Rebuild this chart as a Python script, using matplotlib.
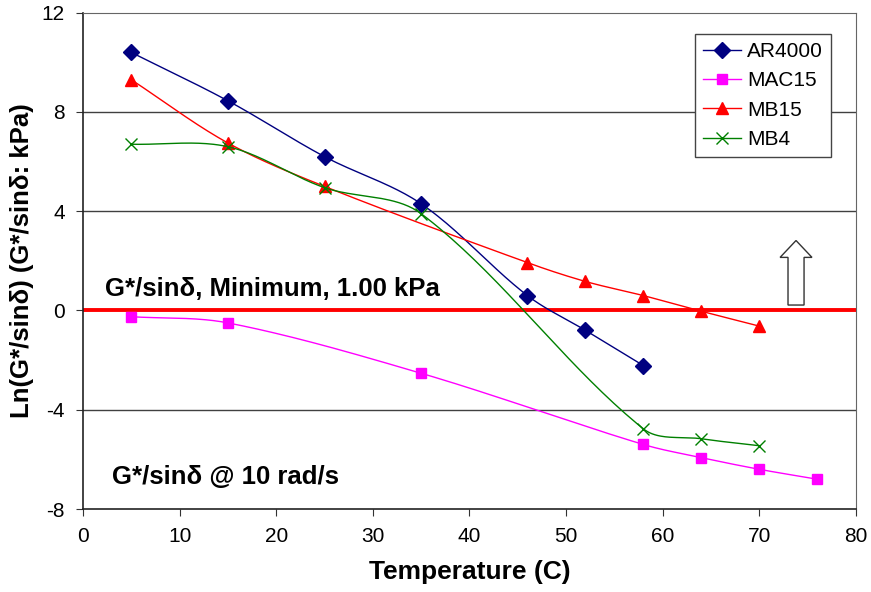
import numpy as np
import matplotlib.pyplot as plt
from matplotlib.patches import FancyArrow

plt.rcParams['font.family'] = ['Liberation Sans', 'DejaVu Sans']
plt.rcParams['axes.unicode_minus'] = False

# data
t_ar = [5, 15, 25, 35, 46, 52, 58]
ar4000 = [10.4, 8.45, 6.2, 4.3, 0.6, -0.8, -2.22]
t_mac = [5, 15, 35, 58, 64, 70, 76]
mac15 = [-0.25, -0.5, -2.53, -5.4, -5.93, -6.4, -6.8]
t_mb15 = [5, 15, 25, 46, 52, 58, 64, 70]
mb15 = [9.3, 6.75, 5.0, 1.93, 1.17, 0.6, -0.03, -0.63]
t_mb4 = [5, 15, 25, 35, 58, 64, 70]
mb4 = [6.7, 6.6, 4.95, 3.9, -4.77, -5.17, -5.45]


def smooth(x, y, n=40, sx=9.65, sy=24.6):
    # bezier smoothing with chord-length weighted tangents (excel-like)
    p = np.column_stack([np.asarray(x, float), np.asarray(y, float)])
    sc = np.array([sx, sy])
    d = np.linalg.norm(np.diff(p * sc, axis=0), axis=1)
    k = len(p)
    fwd, back = [], []
    for i in range(k):
        if i == 0:
            tan = p[1] - p[0]
            fwd.append(p[0] + tan / 3)
            back.append(p[0])
        elif i == k - 1:
            tan = p[-1] - p[-2]
            back.append(p[-1] - tan / 3)
            fwd.append(p[-1])
        else:
            tan = p[i + 1] - p[i - 1]
            w = d[i - 1] + d[i]
            fwd.append(p[i] + tan * d[i] / w / 3)
            back.append(p[i] - tan * d[i - 1] / w / 3)
    t = np.linspace(0, 1, n)[:, None]
    pts = []
    for i in range(k - 1):
        b = ((1 - t) ** 3 * p[i] + 3 * (1 - t) ** 2 * t * fwd[i]
             + 3 * (1 - t) * t ** 2 * back[i + 1] + t ** 3 * p[i + 1])
        pts.append(b)
    pts = np.vstack(pts)
    return pts[:, 0], pts[:, 1]


fig = plt.figure(figsize=(8.71, 5.92), dpi=100)
ax = fig.add_axes([0.0953, 0.1402, 0.8874, 0.8383])

series = [
    (t_ar, ar4000, 'AR4000', '#000080', 'D', 8),
    (t_mac, mac15, 'MAC15', '#ff00ff', 's', 7.5),
    (t_mb15, mb15, 'MB15', '#ff0000', '^', 8.5),
    (t_mb4, mb4, 'MB4', '#008000', 'x', 8),
]
for x, y, name, c, m, ms in series:
    sx, sy = smooth(x, y)
    ax.plot(sx, sy, color=c, lw=1.0)
    ax.plot(x, y, ls='none', marker=m, color=c, ms=ms, mew=1.0)
    ax.plot([], [], color=c, lw=1.0, marker=m, ms=ms, label=name)

ax.axhline(0, color='#ff0000', lw=2.8, zorder=1)
for g in (-4, 4, 8):
    ax.axhline(g, color='#404040', lw=1.0, zorder=0)

ax.add_patch(FancyArrow(73.8, 0.22, 0, 2.6, width=1.66, head_width=3.3,
                        head_length=0.68, length_includes_head=True,
                        facecolor='white', edgecolor='#333333', lw=1.0))

ax.text(2.28, 0.57, 'G*/sinδ, Minimum, 1.00 kPa', fontsize=18.5,
        fontweight='bold', va='baseline')
ax.text(2.97, -6.99, 'G*/sinδ @ 10 rad/s', fontsize=18.5,
        fontweight='bold', va='baseline')

ax.set_xlim(0, 80)
ax.set_ylim(-8, 12)
ax.set_xticks(range(0, 81, 10))
ax.set_yticks(range(-8, 13, 4))
ax.tick_params(direction='out', length=5, labelsize=15, pad=8,
               color='#333333')
ax.set_xlabel('Temperature (C)', fontsize=19, fontweight='bold')
ax.set_ylabel('Ln(G*/sinδ) (G*/sinδ: kPa)', fontsize=18.5, fontweight='bold')
ax.xaxis.set_label_coords(0.5, -0.103)
ax.yaxis.set_label_coords(-0.063, 0.5)

for s in ('top', 'right'):
    ax.spines[s].set_color('#666666')
for s in ('left', 'bottom'):
    ax.spines[s].set_color('#222222')
    ax.spines[s].set_linewidth(1.2)

leg = ax.legend(loc='upper right', bbox_to_anchor=(0.968, 0.958),
                borderaxespad=0, fontsize=15, fancybox=False,
                edgecolor='#444444', framealpha=1, handlelength=1.8,
                handletextpad=0.3, labelspacing=0.5, borderpad=0.4)
leg.get_frame().set_linewidth(1.0)

fig.savefig('out.png')
